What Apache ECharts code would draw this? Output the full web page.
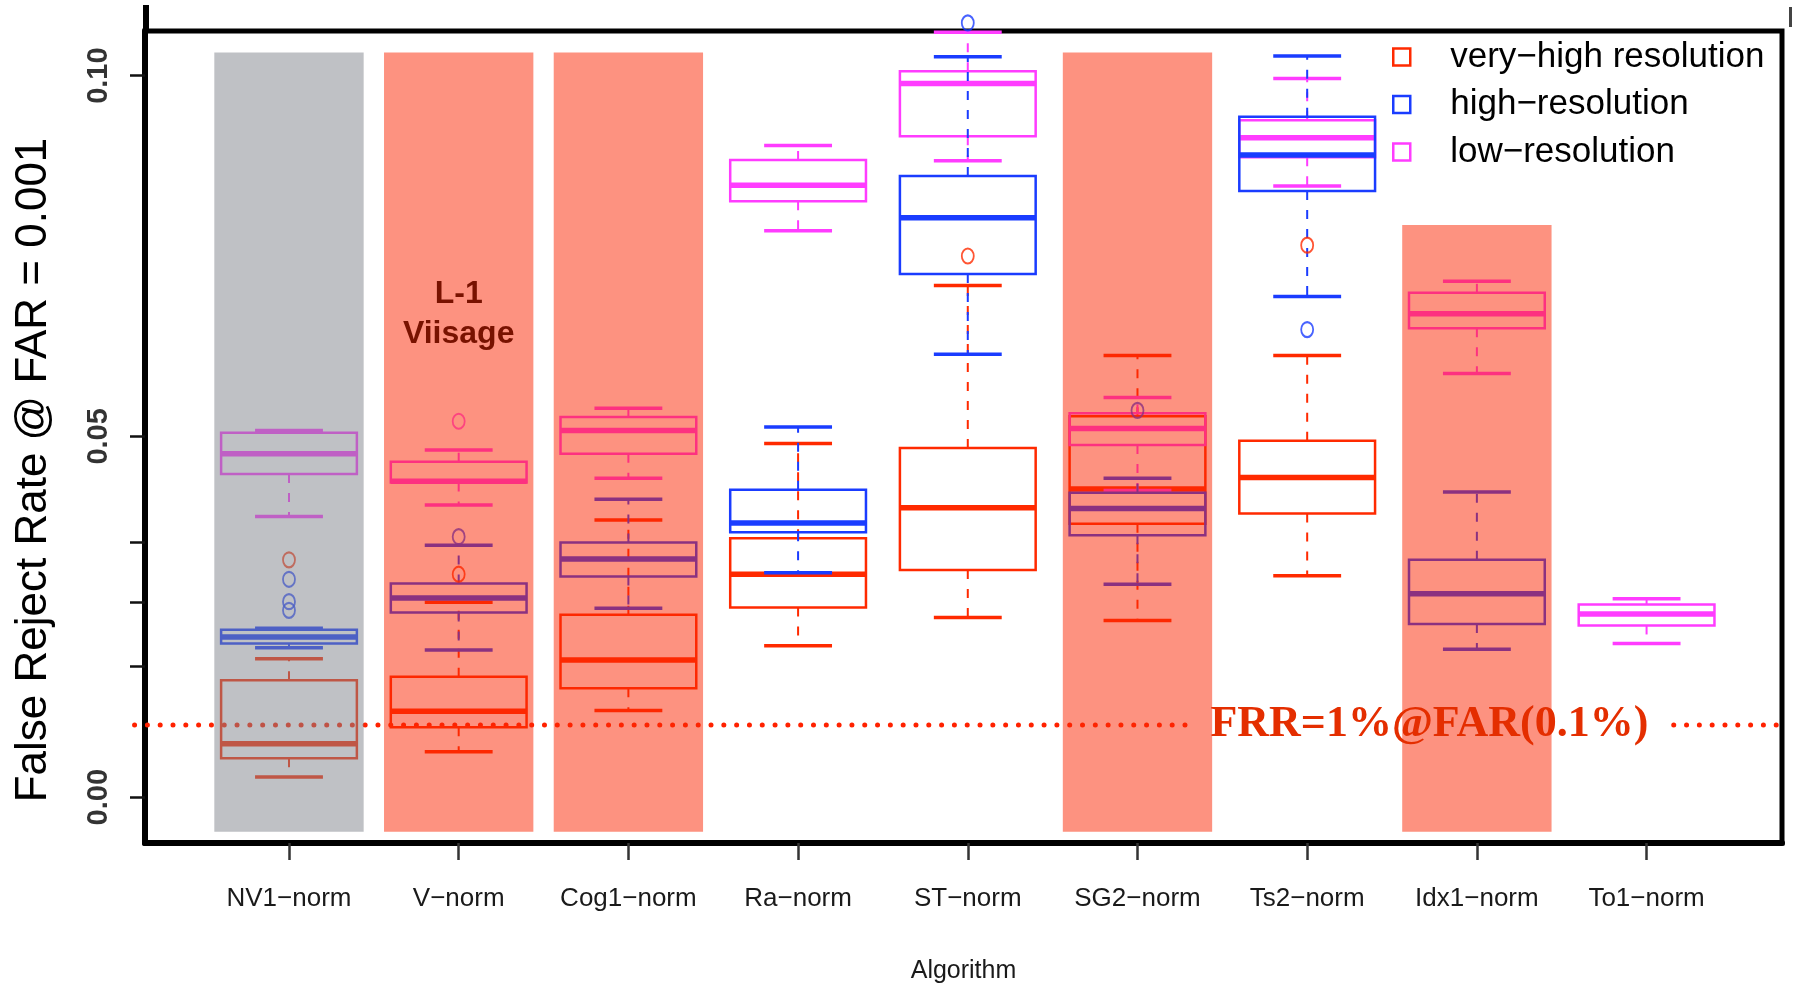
<!DOCTYPE html>
<html>
<head>
<meta charset="utf-8">
<title>False Reject Rate by Algorithm</title>
<script src="https://cdn.jsdelivr.net/npm/echarts@6/dist/echarts.min.js"></script>
<style>
  html, body { margin: 0; padding: 0; background: #ffffff; }
  #chart { width: 1796px; height: 993px; }
</style>
</head>
<body>
<div id="chart"></div>
<script>
// ---- data -------------------------------------------------------------
const categories = ['NV1\u2212norm', 'V\u2212norm', 'Cog1\u2212norm', 'Ra\u2212norm', 'ST\u2212norm',
                    'SG2\u2212norm', 'Ts2\u2212norm', 'Idx1\u2212norm', 'To1\u2212norm'];

const seriesNames = ['very\u2212high resolution', 'high\u2212resolution', 'low\u2212resolution'];

// box statistics per algorithm: [lower whisker, Q1, median, Q3, upper whisker]
const veryHighStats = [
  [0.0028, 0.0054, 0.0074, 0.0162, 0.0192],
  [0.0063, 0.0097, 0.0119, 0.0167, 0.0270],
  [0.0120, 0.0151, 0.0190, 0.0253, 0.0384],
  [0.0210, 0.0263, 0.0309, 0.0359, 0.0490],
  [0.0249, 0.0315, 0.0401, 0.0484, 0.0709],
  [0.0245, 0.0379, 0.0427, 0.0528, 0.0612],
  [0.0307, 0.0393, 0.0443, 0.0494, 0.0612],
  null,
  null
];
const highStats = [
  [0.0207, 0.0213, 0.0222, 0.0232, 0.0234],
  [0.0204, 0.0256, 0.0276, 0.0296, 0.0349],
  [0.0262, 0.0306, 0.0330, 0.0353, 0.0413],
  [0.0311, 0.0367, 0.0380, 0.0426, 0.0513],
  [0.0614, 0.0725, 0.0803, 0.0861, 0.1026],
  [0.0295, 0.0363, 0.0400, 0.0422, 0.0442],
  [0.0694, 0.0840, 0.0890, 0.0943, 0.1027],
  [0.0205, 0.0240, 0.0282, 0.0329, 0.0423],
  null
];
const lowStats = [
  [0.0389, 0.0448, 0.0476, 0.0505, 0.0508],
  [0.0405, 0.0436, 0.0438, 0.0465, 0.0481],
  [0.0442, 0.0476, 0.0508, 0.0527, 0.0539],
  [0.0785, 0.0826, 0.0848, 0.0883, 0.0903],
  [0.0882, 0.0916, 0.0989, 0.1006, 0.1060],
  [0.0425, 0.0488, 0.0511, 0.0532, 0.0554],
  [0.0847, 0.0887, 0.0914, 0.0938, 0.0996],
  [0.0587, 0.0650, 0.0670, 0.0699, 0.0715],
  [0.0213, 0.0238, 0.0254, 0.0267, 0.0275]
];

// outliers: [algorithm, value]
const veryHighOutliers = [['NV1\u2212norm', 0.0329], ['V\u2212norm', 0.0309], ['ST\u2212norm', 0.0750], ['Ts2\u2212norm', 0.0765]];
const highOutliers = [['NV1\u2212norm', 0.0302], ['NV1\u2212norm', 0.0271], ['NV1\u2212norm', 0.0259],
                      ['V\u2212norm', 0.0361], ['ST\u2212norm', 0.1073], ['SG2\u2212norm', 0.0536], ['Ts2\u2212norm', 0.0648]];
const lowOutliers = [['V\u2212norm', 0.0521]];

// highlighted algorithms and the top of their shading
const greyBandCategories = ['NV1\u2212norm'];
const greyBandTops = [0.1032];
const redBandCategories = ['V\u2212norm', 'Cog1\u2212norm', 'SG2\u2212norm', 'Idx1\u2212norm'];
const redBandTops = [0.1032, 0.1032, 0.1032, 0.0793];
const bandBottom = -0.0048;

const frrLevel = 0.01;
const frrLabel = 'FRR=1%@FAR(0.1%)';
const vendorLabel = 'L-1\nViisage';

const yLabelValues = [0, 0.05, 0.10];
const yTickValues = [0, 0.0182, 0.0270, 0.0354, 0.05, 0.10];

// ---- drawing ----------------------------------------------------------
const RED = '#FF2A00';
const BLUE = '#1A3CFF';
const MAGENTA = '#FF3CFF';
const SANS = '"Liberation Sans", Arial, Helvetica, sans-serif';
const SERIF = '"Liberation Serif", "Times New Roman", serif';

const BOX_WIDTH = 0.8;
const CAP_WIDTH = 0.4;
const BAND_WIDTH = 0.88;

const xPos = name => categories.indexOf(name) + 1;

function boxData(stats) {
  const out = [];
  stats.forEach((s, i) => { if (s) out.push([i + 1].concat(s)); });
  return out;
}

function boxRenderer(color) {
  return function (params, api) {
    const x = api.value(0);
    const lo = api.coord([x, api.value(1)]);
    const q1 = api.coord([x, api.value(2)]);
    const med = api.coord([x, api.value(3)]);
    const q3 = api.coord([x, api.value(4)]);
    const hi = api.coord([x, api.value(5)]);
    const bh = api.size([BOX_WIDTH, 0])[0] / 2;
    const ch = api.size([CAP_WIDTH, 0])[0] / 2;
    const cx = med[0];
    const whisker = { stroke: color, lineWidth: 2, lineDash: [9, 10], fill: null };
    const cap = { stroke: color, lineWidth: 3.5, fill: null };
    return {
      type: 'group',
      children: [
        { type: 'line', shape: { x1: cx, y1: q3[1], x2: cx, y2: hi[1] }, style: whisker },
        { type: 'line', shape: { x1: cx, y1: q1[1], x2: cx, y2: lo[1] }, style: whisker },
        { type: 'line', shape: { x1: cx - ch, y1: hi[1], x2: cx + ch, y2: hi[1] }, style: cap },
        { type: 'line', shape: { x1: cx - ch, y1: lo[1], x2: cx + ch, y2: lo[1] }, style: cap },
        { type: 'rect', shape: { x: cx - bh, y: q3[1], width: bh * 2, height: q1[1] - q3[1] },
          style: { stroke: color, lineWidth: 2.5, fill: null } },
        { type: 'line', shape: { x1: cx - bh, y1: med[1], x2: cx + bh, y2: med[1] },
          style: { stroke: color, lineWidth: 5.5, fill: null } }
      ]
    };
  };
}

function bandRenderer(fill) {
  return function (params, api) {
    const x = api.value(0);
    const tl = api.coord([x - BAND_WIDTH / 2, api.value(1)]);
    const br = api.coord([x + BAND_WIDTH / 2, api.value(2)]);
    return {
      type: 'rect',
      shape: { x: tl[0], y: tl[1], width: br[0] - tl[0], height: br[1] - tl[1] },
      style: { fill: fill }
    };
  };
}

function textRenderer(text, font, fill, lineHeight) {
  return function (params, api) {
    const p = api.coord([api.value(0), api.value(1)]);
    return {
      type: 'text',
      x: p[0], y: p[1],
      style: {
        text: text, font: font, fill: fill, opacity: 1,
        align: 'center', verticalAlign: 'middle', lineHeight: lineHeight
      }
    };
  };
}

// drawn in this order: very-high, low, high (high ends up on top)
const groups = [
  { name: seriesNames[0], color: RED, stats: veryHighStats, outliers: veryHighOutliers },
  { name: seriesNames[2], color: MAGENTA, stats: lowStats, outliers: lowOutliers },
  { name: seriesNames[1], color: BLUE, stats: highStats, outliers: highOutliers }
];

const legendColors = [RED, BLUE, MAGENTA];

const series = [];

// FRR reference rule (dotted), broken around its label
series.push({
  type: 'custom',
  name: 'frr-rule',
  z: 1,
  silent: true,
  data: [[frrLevel]],
  renderItem: function (params, api) {
    const segs = [[0.09, 6.29], [9.16, 9.78]];
    return {
      type: 'group',
      children: segs.map(s => {
        const a = api.coord([s[0], api.value(0)]);
        const b = api.coord([s[1], api.value(0)]);
        return {
          type: 'line',
          shape: { x1: a[0], y1: a[1], x2: b[0], y2: b[1] },
          style: { stroke: '#FF2200', lineWidth: 5, lineCap: 'round', lineDash: [0.01, 12.8], fill: null }
        };
      })
    };
  }
});

groups.forEach(g => {
  series.push({
    type: 'custom',
    name: g.name,
    z: 2,
    itemStyle: { color: g.color },
    data: boxData(g.stats),
    encode: { x: 0, y: [1, 2, 3, 4, 5] },
    renderItem: boxRenderer(g.color)
  });
  series.push({
    type: 'scatter',
    name: g.name,
    z: 2,
    clip: false,
    symbol: 'circle',
    symbolSize: [12, 15],
    itemStyle: { color: 'rgba(0,0,0,0)', borderColor: g.color, borderWidth: 2 },
    data: g.outliers.map(o => [xPos(o[0]), o[1]])
  });
});

// translucent highlight bands laid over the boxes
series.push({
  type: 'custom',
  name: 'grey-band',
  z: 3,
  silent: true,
  data: greyBandCategories.map((c, i) => [xPos(c), greyBandTops[i], bandBottom]),
  renderItem: bandRenderer('rgba(127,131,139,0.5)')
});
series.push({
  type: 'custom',
  name: 'red-band',
  z: 3,
  silent: true,
  data: redBandCategories.map((c, i) => [xPos(c), redBandTops[i], bandBottom]),
  renderItem: bandRenderer('rgba(251,37,1,0.5)')
});

// annotations
series.push({
  type: 'custom',
  name: 'frr-label',
  z: 4,
  silent: true,
  clip: false,
  data: [[7.72, frrLevel]],
  renderItem: textRenderer(frrLabel, 'bold 44px ' + SERIF, '#E42E00', 44)
});
series.push({
  type: 'custom',
  name: 'vendor-label',
  z: 4,
  silent: true,
  clip: false,
  data: [[xPos('V\u2212norm'), 0.0669]],
  renderItem: textRenderer(vendorLabel, 'bold 32px ' + SANS, '#781200', 40)
});

const chart = echarts.init(document.getElementById('chart'), null, { renderer: 'canvas' });

chart.setOption({
  animation: false,
  backgroundColor: '#ffffff',
  grid: {
    left: 145, right: 14, top: 31, bottom: 150,
    show: true, borderColor: '#000', borderWidth: 5, backgroundColor: 'rgba(0,0,0,0)'
  },
  legend: {
    orient: 'vertical',
    left: 1392, top: 37,
    padding: 0,
    itemWidth: 17, itemHeight: 17, itemGap: 7.5,
    selectedMode: false,
    textStyle: { fontFamily: SANS, fontSize: 35, lineHeight: 40, color: '#000', padding: [0, 0, 0, 35] },
    data: seriesNames.map((n, i) => ({
      name: n, icon: 'rect',
      itemStyle: { color: 'rgba(0,0,0,0)', borderColor: legendColors[i], borderWidth: 2.5 }
    }))
  },
  xAxis: {
    type: 'value',
    min: 0.1515, max: 9.798,
    name: 'Algorithm',
    nameLocation: 'middle',
    nameGap: 116,
    nameTextStyle: { fontFamily: SANS, fontSize: 25, color: '#1a1a1a' },
    axisLine: { show: true, onZero: false, lineStyle: { color: '#000', width: 6 } },
    axisTick: {
      show: true, length: 17, customValues: categories.map((c, i) => i + 1),
      lineStyle: { color: '#333', width: 2.5 }
    },
    axisLabel: {
      customValues: categories.map((c, i) => i + 1),
      formatter: v => categories[Math.round(v) - 1] || '',
      fontFamily: SANS, fontSize: 26, color: '#1a1a1a', margin: 43
    },
    splitLine: { show: false }
  },
  yAxis: {
    type: 'value',
    min: -0.006347, max: 0.10618,
    axisLine: { show: true, onZero: false, lineStyle: { color: '#000', width: 6 } },
    axisTick: {
      show: true, length: 15, customValues: yTickValues,
      lineStyle: { color: '#111', width: 2.5 }
    },
    axisLabel: {
      customValues: yLabelValues,
      rotate: 90,
      formatter: v => v.toFixed(2),
      fontFamily: SANS, fontWeight: 'bold', fontSize: 29, color: '#333', margin: 32
    },
    splitLine: { show: false }
  },
  graphic: [
    {
      type: 'text', x: 34, y: 470, rotation: Math.PI / 2,
      style: {
        text: 'False Reject Rate @ FAR = 0.001',
        font: '44px ' + SANS, fill: '#000',
        align: 'center', verticalAlign: 'middle',
        textAlign: 'center', textVerticalAlign: 'middle'
      }
    },
    { type: 'line', shape: { x1: 146, y1: 5, x2: 146, y2: 31 }, style: { stroke: '#000', lineWidth: 6 } },
    { type: 'rect', shape: { x: 1789, y: 7, width: 3, height: 20 }, style: { fill: '#444' } }
  ],
  series: series
});
</script>
</body>
</html>
